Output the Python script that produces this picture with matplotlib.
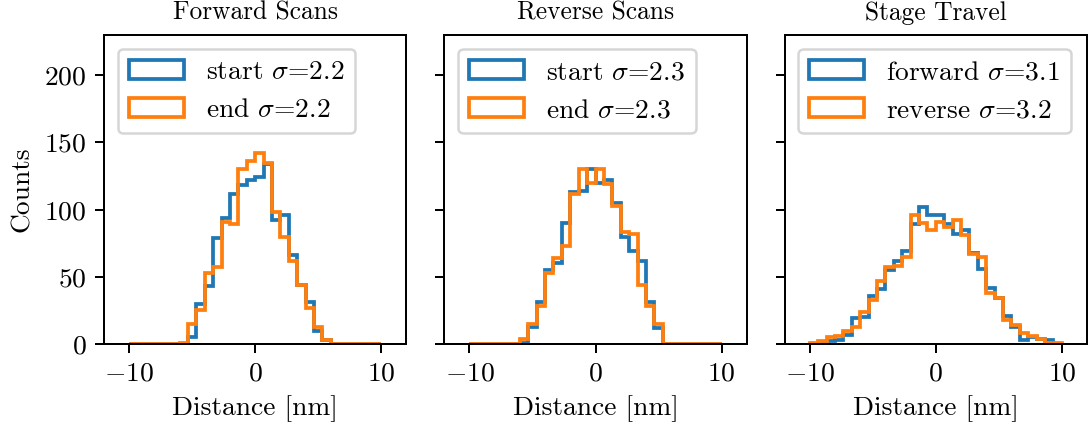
import numpy as np
import matplotlib.pyplot as plt

plt.rcParams.update({
    "font.family": "serif",
    "font.serif": ["cmr10"],
    "mathtext.fontset": "cm",
    "axes.formatter.use_mathtext": True,
    "font.size": 11,
    "axes.titlesize": 10.2,
})

# 30 bins of 2/3 nm from -10 to 10 nm
edges = np.linspace(-10, 10, 31)
centers = 0.5 * (edges[:-1] + edges[1:])

fwd_start = [0, 0, 0, 0, 0, 0, 0, 5, 30, 43, 79, 94, 112, 118, 122,
             124, 134, 92, 96, 66, 44, 31, 10, 3, 0, 0, 0, 0, 0, 0]
fwd_end = [0, 0, 0, 0, 0, 0, 1, 15, 25, 53, 57, 91, 89, 130, 136,
           142, 135, 98, 80, 62, 44, 27, 13, 3, 0, 0, 0, 0, 0, 0]

rev_start = [0, 0, 0, 0, 0, 0, 1, 13, 31, 55, 60, 90, 113, 114, 130,
             120, 122, 105, 80, 69, 62, 31, 12, 0, 0, 0, 0, 0, 0, 0]
rev_end = [0, 0, 0, 0, 0, 0, 4, 15, 28, 53, 64, 73, 112, 130, 120,
           130, 119, 103, 83, 82, 44, 28, 15, 0, 0, 0, 0, 0, 0, 0]

stage_fwd = [0, 1, 2, 3, 7, 19, 20, 36, 41, 55, 62, 69, 89, 102, 96,
             96, 89, 82, 85, 68, 56, 42, 34, 21, 13, 3, 5, 4, 3, 0]
stage_rev = [1, 2, 5, 6, 10, 13, 24, 33, 47, 57, 58, 65, 96, 90, 85,
             91, 87, 92, 81, 67, 65, 38, 34, 18, 14, 8, 6, 4, 1, 1]

panels = [
    ("Forward Scans", fwd_start, fwd_end, "start", "end", 2.2, 2.2),
    ("Reverse Scans", rev_start, rev_end, "start", "end", 2.3, 2.3),
    ("Stage Travel", stage_fwd, stage_rev, "forward", "reverse", 3.1, 3.2),
]

fig, axes = plt.subplots(1, 3, sharey=True, figsize=(1089 / 180, 429 / 180), dpi=180)
fig.subplots_adjust(left=104 / 1089, right=1087 / 1089,
                    top=1 - 35 / 429, bottom=1 - 344 / 429, wspace=0.125)

for ax, (title, a, b, la, lb, sa, sb) in zip(axes, panels):
    ax.hist(centers, bins=edges, weights=a, histtype="step", linewidth=1.5,
            label=rf"{la} $\sigma$=${sa}$")
    ax.hist(centers, bins=edges, weights=b, histtype="step", linewidth=1.5,
            label=rf"{lb} $\sigma$=${sb}$")
    ax.set_title(title)
    ax.set_xlabel("Distance [nm]")
    ax.set_xlim(-12, 12)
    ax.set_xticks([-10, 0, 10])
    ax.legend(loc="upper left")

axes[0].set_ylim(0, 230)
axes[0].set_yticks([0, 50, 100, 150, 200])
axes[0].set_ylabel("Counts")

fig.savefig("out.png", dpi=180)
